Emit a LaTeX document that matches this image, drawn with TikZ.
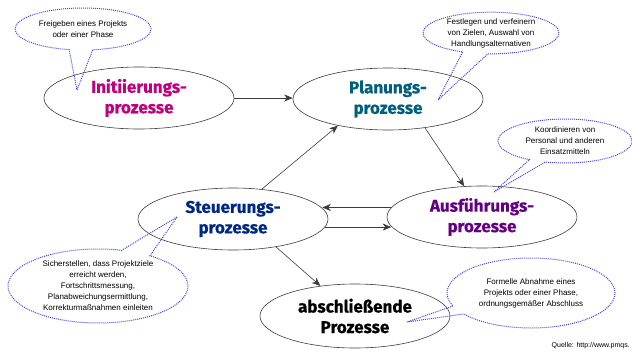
\documentclass[tikz,border=0pt]{standalone}
\usepackage{fontspec}
\setmainfont{Liberation Sans}
\newfontfamily\labelfont{Fira Sans}[BoldFeatures={FakeBold=0.6}]
\usetikzlibrary{shapes.geometric,shapes.callouts,arrows.meta}
\definecolor{cinit}{RGB}{192,0,125}
\definecolor{cplan}{RGB}{0,95,125}
\definecolor{csteu}{RGB}{0,40,130}
\definecolor{caus}{RGB}{100,0,130}
\definecolor{cdot}{RGB}{70,70,220}
\definecolor{cline}{RGB}{60,60,60}
\tikzset{
  proc/.style={ellipse, draw=cline, line width=0.6pt, minimum width=190pt, minimum height=62pt,
    inner sep=0pt, align=center, font=\labelfont\bfseries\fontsize{17}{20.5}\selectfont},
  bubble/.style={ellipse callout, draw=cdot, dash pattern=on 1pt off 1pt, line width=1pt,
    inner sep=0pt, align=center, font=\fontsize{8}{11}\selectfont},
  arr/.style={draw=cline, line width=0.6pt, -{Stealth[length=8.5pt,width=7pt,inset=2.5pt]}}
}
\begin{document}
\begin{tikzpicture}[x=1pt,y=-1pt]
\useasboundingbox (0,0) rectangle (632,351);
% main process ellipses
\node[proc, text=cinit] (init) at (139,98) {Initiierungs-\\prozesse};
\node[proc, text=cplan] (plan) at (388,99) {Planungs-\\prozesse};
\node[proc, text=caus] (aus) at (482,217) {Ausführungs-\\prozesse};
\node[proc, text=csteu] (steu) at (233,219) {Steuerungs-\\prozesse};
\node[proc, text=black, minimum height=64pt] (absch) at (355,316) {abschließende\\Prozesse};
% connectors
\draw[arr] (init.east) -- (init.east -| plan.west);
\draw[arr] (plan.-38) -- (aus.120);
\draw[arr] (steu.46) -- (plan.208);
\draw[arr] (aus.174) -- (steu.7 |- aus.174);
\draw[arr] (steu.-5) -- (aus.-174 |- steu.-5);
\draw[arr] (steu.-33) -- (absch.139);
% callouts
\node[bubble, minimum width=136pt, minimum height=42pt, callout pointer arc=20,
  callout absolute pointer={(77,90)}] (c1) at (83,29)
  {Freigeben eines Projekts\\oder einer Phase};
\node[bubble, minimum width=136pt, minimum height=40pt, callout pointer arc=22,
  callout absolute pointer={(438,100)}] (c2) at (491,33)
  {Festlegen und verfeinern\\von Zielen, Auswahl von\\Handlungsalternativen};
\node[bubble, minimum width=134pt, minimum height=44pt, callout pointer arc=15,
  callout absolute pointer={(494,192)}] (c3) at (565,141)
  {Koordinieren von\\Personal und anderen\\Einsatzmitteln};
\node[bubble, minimum width=180pt, minimum height=74pt, callout pointer arc=20,
  callout absolute pointer={(177,217)}] (c4) at (98,286)
  {Sicherstellen, dass Projektziele\\erreicht werden,\\Fortschrittsmessung,\\Planabweichungsermittlung,\\Korrekturmaßnahmen einleiten};
\node[bubble, minimum width=168pt, minimum height=70pt, callout pointer arc=15,
  callout absolute pointer={(407,322)}] (c5) at (531,293)
  {Formelle Abnahme eines\\Projekts oder einer Phase,\\ordnungsgemäßer Abschluss};
\node[anchor=east, inner sep=0pt, font=\fontsize{7}{8}\selectfont] (src) at (630,346) {Quelle: http://www.pmqs.};
\end{tikzpicture}
\end{document}
